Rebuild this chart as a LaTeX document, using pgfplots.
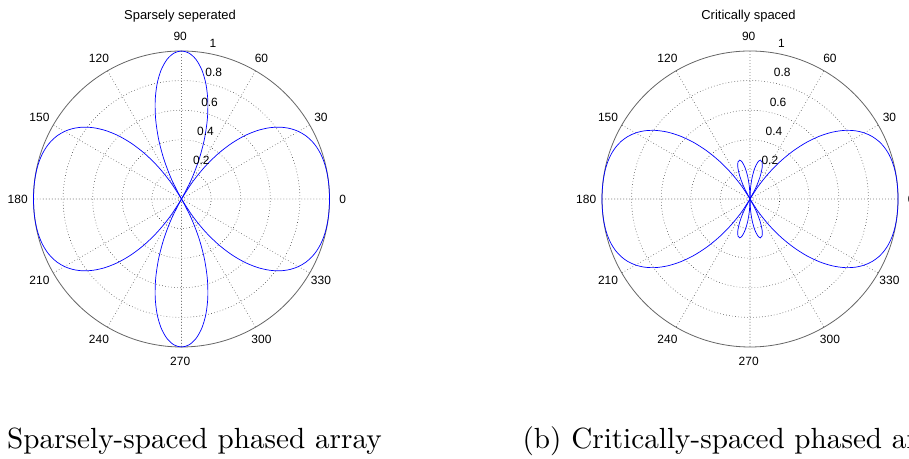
\documentclass[border=0pt]{standalone}
\usepackage{fontspec}
\usepackage{pgfplots}
\pgfplotsset{compat=1.18}
\usepgfplotslibrary{polar}
\newfontfamily\arial{Liberation Sans}

\begin{document}
\begin{tikzpicture}[x=1bp,y=1bp]
\useasboundingbox (0,0) rectangle (909,459);
\clip (0,0) rectangle (909,459);

\pgfplotsset{
  mypolar/.style={
    width=296bp, height=296bp, scale only axis,
    anchor=center,
    xmin=0, xmax=360, ymin=0, ymax=1,
    xtick={0,30,...,330}, ytick={0.2,0.4,0.6,0.8},
    xticklabels={}, yticklabels={},
    xmajorgrids, ymajorgrids,
    major grid style={black!80, line width=0.55bp, dash pattern=on 0.6bp off 2.4bp},
    axis line style={draw=none},
    extra y ticks={1}, extra y tick labels={},
    extra y tick style={major grid style={solid, black!60, line width=0.8bp}},
    major tick length=0pt,
    clip=false,
  },
  lobe/.style={blue, line width=0.7bp, smooth, tension=0.5, mark=none},
}

% ---------------- (a) Sparsely separated ----------------
\begin{polaraxis}[mypolar, at={(181.5bp,260bp)}]
\addplot[lobe] coordinates {(-60,0) (-57,0.1401) (-54,0.2722) (-51,0.3950) (-48,0.5064) (-45,0.6057) (-42,0.6917) (-39,0.7648) (-36,0.8253) (-33,0.8743) (-30,0.9127) (-27,0.9420) (-24,0.9634) (-21,0.9783) (-18,0.9882) (-15,0.9943) (-12,0.9977) (-9,0.9993) (-6,0.9999) (-3,1.0) (0,1.0) (3,1.0) (6,0.9999) (9,0.9993) (12,0.9977) (15,0.9943) (18,0.9882) (21,0.9783) (24,0.9634) (27,0.9420) (30,0.9127) (33,0.8743) (36,0.8253) (39,0.7648) (42,0.6917) (45,0.6057) (48,0.5064) (51,0.3950) (54,0.2722) (57,0.1401) (60,0)};
\addplot[lobe] coordinates {(60,0) (63,0.1441) (66,0.2888) (69,0.4304) (72,0.5646) (75,0.6872) (78,0.7942) (81,0.8817) (84,0.9466) (87,0.9865) (90,1) (93,0.9865) (96,0.9466) (99,0.8817) (102,0.7942) (105,0.6872) (108,0.5646) (111,0.4304) (114,0.2888) (117,0.1441) (120,0)};
\addplot[lobe] coordinates {(120,0) (123,0.1401) (126,0.2722) (129,0.3950) (132,0.5064) (135,0.6057) (138,0.6917) (141,0.7648) (144,0.8253) (147,0.8743) (150,0.9127) (153,0.9420) (156,0.9634) (159,0.9783) (162,0.9882) (165,0.9943) (168,0.9977) (171,0.9993) (174,0.9999) (177,1.0) (180,1.0) (183,1.0) (186,0.9999) (189,0.9993) (192,0.9977) (195,0.9943) (198,0.9882) (201,0.9783) (204,0.9634) (207,0.9420) (210,0.9127) (213,0.8743) (216,0.8253) (219,0.7648) (222,0.6917) (225,0.6057) (228,0.5064) (231,0.3950) (234,0.2722) (237,0.1401) (240,0)};
\addplot[lobe] coordinates {(240,0) (243,0.1441) (246,0.2888) (249,0.4304) (252,0.5646) (255,0.6872) (258,0.7942) (261,0.8817) (264,0.9466) (267,0.9865) (270,1) (273,0.9865) (276,0.9466) (279,0.8817) (282,0.7942) (285,0.6872) (288,0.5646) (291,0.4304) (294,0.2888) (297,0.1441) (300,0)};
\end{polaraxis}

% ---------------- (b) Critically spaced ----------------
\begin{polaraxis}[mypolar, at={(750bp,260bp)}]
\addplot[lobe] coordinates {(-60,0) (-57,0.1057) (-54,0.2171) (-51,0.3300) (-48,0.4395) (-45,0.5427) (-42,0.6361) (-39,0.7184) (-36,0.7885) (-33,0.8464) (-30,0.8926) (-27,0.9282) (-24,0.9545) (-21,0.9730) (-18,0.9853) (-15,0.9929) (-12,0.9971) (-9,0.9991) (-6,0.9998) (-3,1.0) (0,1.0) (3,1.0) (6,0.9998) (9,0.9991) (12,0.9971) (15,0.9929) (18,0.9853) (21,0.9730) (24,0.9545) (27,0.9282) (30,0.8926) (33,0.8464) (36,0.7885) (39,0.7184) (42,0.6361) (45,0.5427) (48,0.4395) (51,0.3300) (54,0.2171) (57,0.1057) (60,0)};
\addplot[lobe] coordinates {(120,0) (123,0.1057) (126,0.2171) (129,0.3300) (132,0.4395) (135,0.5427) (138,0.6361) (141,0.7184) (144,0.7885) (147,0.8464) (150,0.8926) (153,0.9282) (156,0.9545) (159,0.9730) (162,0.9853) (165,0.9929) (168,0.9971) (171,0.9991) (174,0.9998) (177,1.0) (180,1.0) (183,1.0) (186,0.9998) (189,0.9991) (192,0.9971) (195,0.9929) (198,0.9853) (201,0.9730) (204,0.9545) (207,0.9282) (210,0.8926) (213,0.8464) (216,0.7885) (219,0.7184) (222,0.6361) (225,0.5427) (228,0.4395) (231,0.3300) (234,0.2171) (237,0.1057) (240,0)};
\addplot[lobe] coordinates {(60,0) (63,0.0942) (66,0.1722) (69,0.2297) (72,0.2634) (75,0.2718) (78,0.2548) (81,0.2145) (84,0.1547) (87,0.0810) (90,0)};
\addplot[lobe] coordinates {(90,0) (93,0.0810) (96,0.1547) (99,0.2145) (102,0.2548) (105,0.2718) (108,0.2634) (111,0.2297) (114,0.1722) (117,0.0942) (120,0)};
\addplot[lobe] coordinates {(240,0) (243,0.0942) (246,0.1722) (249,0.2297) (252,0.2634) (255,0.2718) (258,0.2548) (261,0.2145) (264,0.1547) (267,0.0810) (270,0)};
\addplot[lobe] coordinates {(270,0) (273,0.0810) (276,0.1547) (279,0.2145) (282,0.2548) (285,0.2718) (288,0.2634) (291,0.2297) (294,0.1722) (297,0.0942) (300,0)};
\end{polaraxis}

% ---------------- labels ----------------
\foreach \cx/\ttl in {181.5/{Sparsely seperated}, 750/{Critically spaced}}{
  \begin{scope}[shift={(\cx,260)}, font=\arial\fontsize{12}{14}\selectfont]
    \foreach \a in {0,30,...,330}
      \node[inner sep=0pt, xshift=-1.3bp] at (\a:162.5) {\a};
    \foreach \r/\l in {0.2/0.2,0.4/0.4,0.6/0.6,0.8/0.8,1/1}
      \node[anchor=south west, inner sep=0pt, xshift=7bp, yshift=3bp] at (82:{(\r+0.01)*148}) {\l};
    \node[anchor=base, inner sep=0pt, font=\arial\fontsize{13}{15}\selectfont] at (-1.5,179) {\ttl};
  \end{scope}
}

% ---------------- captions ----------------
\node[anchor=base west, inner sep=0pt, scale=2.93] at (6.6,10) {Sparsely-spaced phased array};
\node[anchor=base west, inner sep=0pt, scale=2.93] at (522,10) {(b) Critically-spaced phased array};
\end{tikzpicture}
\end{document}
